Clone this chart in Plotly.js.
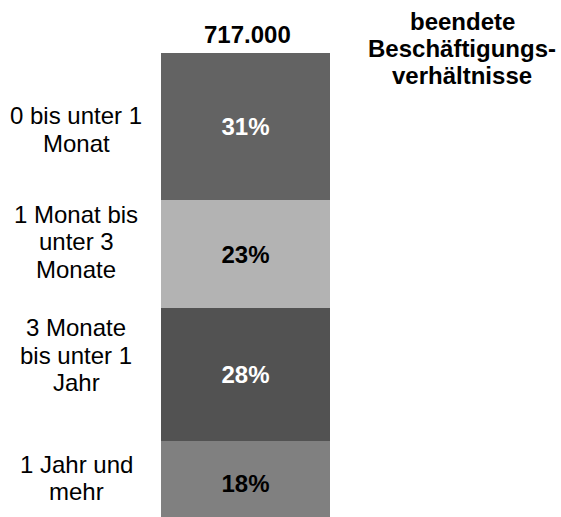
<!DOCTYPE html>
<html><head><meta charset="utf-8">
<script src="https://cdn.plot.ly/plotly-3.0.1.min.js"></script>
<style>html,body{margin:0;padding:0;background:#fff;}</style>
</head><body><div id="chart" style="width:561px;height:517px;"></div>
<script>
// ---- data ----
const categories = ["0 bis unter 1<br>Monat", "1 Monat bis<br>unter 3<br>Monate", "3 Monate<br>bis unter 1<br>Jahr", "1 Jahr und<br>mehr"];
const shares = [31, 23, 28, 18];
const totalLabel = "717.000";
const seriesTitle = "beendete<br>Beschäftigungs-<br>verhältnisse";

// ---- style ----
const barColors = ["#636363", "#b3b3b3", "#525252", "#808080"];
const textColors = ["#ffffff", "#000000", "#ffffff", "#000000"];
const FONT = "Liberation Sans, Arial, sans-serif";
const W = 561, H = 517;
const M = {l: 161, r: 231, t: 53, b: 0};
const plotH = H - M.t - M.b, plotW = W - M.l - M.r;
const py = p => (H - M.b - p) / plotH;
const px = p => (p - M.l) / plotW;

const labelFirstBaseline = [124, 222.7, 336, 472.7];
const lineStep = 27.4;
const baseToCenter = 8.3;

const traces = [];
for (let i = shares.length - 1; i >= 0; i--) {
  traces.push({
    type: 'bar', x: [0], y: [shares[i]], width: 1,
    marker: {color: barColors[i], line: {width: 0}},
    text: [shares[i] + '%'], textposition: 'inside', insidetextanchor: 'middle',
    textangle: 0,
    textfont: {family: FONT, size: 24, color: textColors[i], weight: 'bold'},
    hoverinfo: 'skip', showlegend: false, name: categories[i]
  });
}

const annotations = [];
categories.forEach((c, i) => {
  c.split('<br>').forEach((line, j) => {
    annotations.push({
      xref: 'paper', yref: 'paper', x: px(76), y: py(labelFirstBaseline[i] + j * lineStep - baseToCenter),
      xanchor: 'center', yanchor: 'middle', showarrow: false, text: line,
      font: {family: FONT, size: 24, color: '#000'}
    });
  });
});
annotations.push({
  xref: 'paper', yref: 'paper', x: px(247), y: py(42.3 - baseToCenter),
  xanchor: 'center', yanchor: 'middle', showarrow: false, text: totalLabel,
  font: {family: FONT, size: 24, color: '#000', weight: 'bold'}
});
const titleBaselines = [29.3, 56.5, 83.5];
seriesTitle.split('<br>').forEach((line, j) => {
  annotations.push({
    xref: 'paper', yref: 'paper', x: px(462), y: py(titleBaselines[j] - baseToCenter),
    xanchor: 'center', yanchor: 'middle', showarrow: false, text: line,
    font: {family: FONT, size: 24, color: '#000', weight: 'bold'}
  });
});

const layout = {
  width: W, height: H,
  margin: {l: M.l, r: M.r, t: M.t, b: M.b, pad: 0},
  barmode: 'stack', bargap: 0,
  xaxis: {range: [-0.5, 0.5], visible: false, fixedrange: true},
  yaxis: {range: [1.9, 100], visible: false, fixedrange: true},
  paper_bgcolor: '#ffffff', plot_bgcolor: '#ffffff',
  showlegend: false,
  font: {family: FONT},
  annotations: annotations
};
Plotly.newPlot('chart', traces, layout, {displayModeBar: false, staticPlot: true});
</script>
</body></html>
